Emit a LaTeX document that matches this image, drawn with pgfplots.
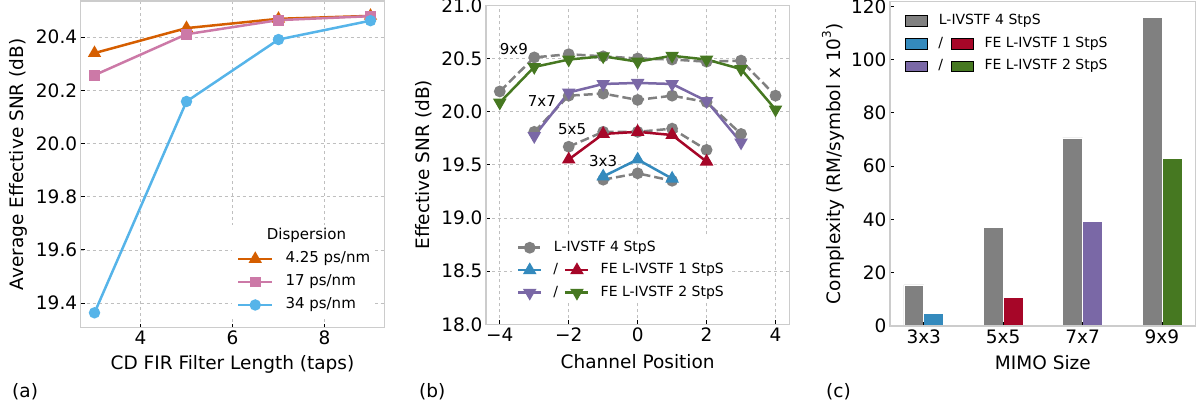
\documentclass[border=0pt]{standalone}
\usepackage{fontspec}
\setmainfont{DejaVu Sans}
\usepackage{pgfplots}
\pgfplotsset{compat=1.18}
\definecolor{cOr}{HTML}{D55E00}
\definecolor{cPk}{HTML}{CC79A7}
\definecolor{cLb}{HTML}{56B4E9}
\definecolor{cGray}{HTML}{808080}
\definecolor{cBlue}{HTML}{348ABD}
\definecolor{cRed}{HTML}{A60628}
\definecolor{cPur}{HTML}{7A68A6}
\definecolor{cGrn}{HTML}{467821}
\pgfplotsset{
  base/.style={
    scale only axis,
    axis line style={draw=black!20, line width=1.2pt},
    tick style={draw=black, line width=0.8pt},
    major tick length=4pt,
    tick align=inside,
    xtick pos=left, ytick pos=left,
    ticklabel style={font=\fontsize{18.5}{21}\selectfont},
    label style={font=\fontsize{18.5}{21}\selectfont},
    /pgf/number format/assume math mode=true,
    grid style={dashed, black!25, line width=0.6pt},
    legend cell align=left,
  },
  gstyle/.style={cGray, line width=2.5pt, dash pattern=on 9pt off 4pt, mark=*, mark size=4.6pt, mark options={solid}},
}
\begin{document}
\begin{tikzpicture}
\path[use as bounding box] (0pt,0pt) rectangle (1203pt,412pt);

% ---------------- (a)
\begin{axis}[base, at={(80.7pt,84.3pt)}, anchor=south west, width=303.6pt, height=326.7pt,
  xmin=2.7, xmax=9.3, ymin=19.307, ymax=20.536,
  xtick={4,6,8}, ytick={19.4,19.6,19.8,20.0,20.2,20.4},
  yticklabel style={/pgf/number format/.cd, fixed, fixed zerofill, precision=1},
  grid=major,
  xlabel={CD FIR Filter Length (taps)}, ylabel={Average Effective SNR (dB)},
  x label style={at={(axis description cs:0.5,-0.1111)}, anchor=center},
  y label style={at={(axis description cs:-0.2065,0.5)}, anchor=center},
  legend style={at={(axis description cs:0.4984,0.3144)}, anchor=north west, draw=none, fill=white,
    inner xsep=5pt, inner ysep=4pt, outer sep=0pt, font=\fontsize{15}{18}\selectfont, row sep=9pt,
    nodes={inner sep=0pt, text height=11pt, text depth=3pt},
    /tikz/every odd column/.append style={column sep=12pt}},
  legend image code/.code={\draw[mark repeat=2, mark phase=2, #1] plot coordinates {(0pt,0pt) (17pt,0pt) (34pt,0pt)};},
]
\addlegendimage{empty legend}
\addlegendentry{\hspace*{-18.6pt}Dispersion}
\addplot[cOr, line width=2.5pt, mark=triangle*, mark size=5.2pt] coordinates {(3,20.34)(5,20.434)(7,20.469)(9,20.48)};
\addlegendentry{4.25 ps/nm}
\addplot[cPk, line width=2.5pt, mark=square*, mark size=4.2pt] coordinates {(3,20.257)(5,20.411)(7,20.464)(9,20.479)};
\addlegendentry{17 ps/nm}
\addplot[cLb, line width=2.5pt, mark=*, mark size=4.4pt] coordinates {(3,19.363)(5,20.158)(7,20.391)(9,20.462)};
\addlegendentry{34 ps/nm}
\end{axis}

% ---------------- (b)
\begin{axis}[base, at={(486pt,87.7pt)}, anchor=south west, width=303.3pt, height=319pt,
  xmin=-4.4, xmax=4.4, ymin=18, ymax=21,
  xtick={-4,-2,0,2,4}, xticklabels={−4,−2,0,2,4},
  ytick={18,18.5,19,19.5,20,20.5,21},
  yticklabel style={/pgf/number format/.cd, fixed, fixed zerofill, precision=1},
  grid=major,
  xlabel={Channel Position}, ylabel={Effective SNR (dB)},
  x label style={at={(axis description cs:0.5,-0.1182)}, anchor=center},
  y label style={at={(axis description cs:-0.2044,0.5)}, anchor=center},
  legend columns=2,
  legend style={at={(axis description cs:0.0857,0.2737)}, anchor=north west, draw=none, fill=white,
    inner xsep=5pt, inner ysep=4pt, outer sep=0pt, font=\fontsize{14}{17}\selectfont, row sep=9pt,
    nodes={inner sep=0pt, text height=10.5pt, text depth=3pt},
    /tikz/every odd column/.append style={column sep=11pt},
    /tikz/every even column/.append style={column sep=6pt}},
  legend image code/.code={\draw[mark repeat=2, mark phase=2, #1] plot coordinates {(0pt,0pt) (11.5pt,0pt) (23pt,0pt)};},
]
% 9x9
\addplot[gstyle, forget plot] coordinates {(-4,20.19)(-3,20.51)(-2,20.54)(-1,20.52)(0,20.50)(1,20.49)(2,20.47)(3,20.48)(4,20.15)};
\addplot[cGrn, line width=2.5pt, mark=triangle*, mark size=5.4pt, mark options={rotate=180}, forget plot] coordinates {(-4,20.085)(-3,20.42)(-2,20.49)(-1,20.52)(0,20.47)(1,20.525)(2,20.49)(3,20.40)(4,20.02)};
% 7x7
\addplot[gstyle, forget plot] coordinates {(-3,19.81)(-2,20.15)(-1,20.17)(0,20.11)(1,20.15)(2,20.09)(3,19.79)};
\addplot[cPur, line width=2.5pt, mark=triangle*, mark size=5.4pt, mark options={rotate=180}, forget plot] coordinates {(-3,19.77)(-2,20.18)(-1,20.26)(0,20.27)(1,20.26)(2,20.10)(3,19.71)};
% 5x5
\addplot[gstyle, forget plot] coordinates {(-2,19.67)(-1,19.81)(0,19.81)(1,19.84)(2,19.64)};
\addplot[cRed, line width=2.5pt, mark=triangle*, mark size=5.4pt, forget plot] coordinates {(-2,19.55)(-1,19.79)(0,19.81)(1,19.78)(2,19.53)};
% 3x3
\addplot[gstyle, forget plot] coordinates {(-1,19.36)(0,19.42)(1,19.35)};
\addplot[cBlue, line width=2.5pt, mark=triangle*, mark size=5.4pt, forget plot] coordinates {(-1,19.39)(0,19.55)(1,19.37)};
\node[font=\fontsize{15}{18}\selectfont] at (axis cs:-3.59,20.59) {9x9};
\node[font=\fontsize{15}{18}\selectfont] at (axis cs:-2.78,20.10) {7x7};
\node[font=\fontsize{15}{18}\selectfont] at (axis cs:-1.90,19.84) {5x5};
\node[font=\fontsize{15}{18}\selectfont] at (axis cs:-1.00,19.54) {3x3};
\addlegendimage{gstyle}
\addlegendentry{\makebox[0pt][l]{L-IVSTF 4 StpS}}
\addlegendimage{empty legend}
\addlegendentry{}
\addlegendimage{cBlue, line width=2.5pt, mark=triangle*, mark size=5.4pt}
\addlegendentry{/}
\addlegendimage{cRed, line width=2.5pt, mark=triangle*, mark size=5.4pt}
\addlegendentry{FE L-IVSTF 1 StpS}
\addlegendimage{cPur, line width=2.5pt, mark=triangle*, mark size=5.4pt, mark options={rotate=180}}
\addlegendentry{/}
\addlegendimage{cGrn, line width=2.5pt, mark=triangle*, mark size=5.4pt, mark options={rotate=180}}
\addlegendentry{FE L-IVSTF 2 StpS}
\end{axis}

% ---------------- (c)
\begin{axis}[base, at={(890pt,86pt)}, anchor=south west, width=305.7pt, height=324.5pt,
  xmin=-0.425, xmax=3.425, ymin=0, ymax=121.8,
  xtick={0,1,2,3}, xticklabels={3x3,5x5,7x7,9x9},
  ytick={0,20,40,60,80,100,120},
  axis on top,
  xlabel={MIMO Size}, ylabel={Complexity (RM/symbol x 10\raisebox{0.5em}{\fontsize{12}{14}\selectfont 3})},
  x label style={at={(axis description cs:0.5,-0.114)}, anchor=center},
  y label style={at={(axis description cs:-0.1865,0.5)}, anchor=center},
  legend columns=2,
  legend style={at={(axis description cs:0.0327,0.9738)}, anchor=north west, draw=none, fill=white,
    inner xsep=5pt, inner ysep=4pt, outer sep=0pt, font=\fontsize{14}{17}\selectfont, row sep=9.2pt,
    nodes={inner sep=0pt, text height=10.5pt, text depth=3pt},
    /tikz/every odd column/.append style={column sep=11pt},
    /tikz/every even column/.append style={column sep=8pt}},
  legend image code/.code={\fill[#1] (0pt,-5.35pt) rectangle (22pt,5.35pt);},
]
\addplot[ybar, bar width=0.25, bar shift=-0.125, fill=cGray, draw=white, line width=0.6pt, forget plot] coordinates {(0,15.4)(1,36.9)(2,70.6)(3,115.9)};
\addplot[ybar, bar width=0.25, bar shift=0.125, fill=cBlue, draw=white, line width=0.6pt, forget plot] coordinates {(0,4.9)};
\addplot[ybar, bar width=0.25, bar shift=0.125, fill=cRed, draw=white, line width=0.6pt, forget plot] coordinates {(1,10.6)};
\addplot[ybar, bar width=0.25, bar shift=0.125, fill=cPur, draw=white, line width=0.6pt, forget plot] coordinates {(2,39.4)};
\addplot[ybar, bar width=0.25, bar shift=0.125, fill=cGrn, draw=white, line width=0.6pt, forget plot] coordinates {(3,63.1)};
\addlegendimage{fill=cGray}
\addlegendentry{\makebox[0pt][l]{L-IVSTF 4 StpS}}
\addlegendimage{empty legend}
\addlegendentry{}
\addlegendimage{fill=cBlue}
\addlegendentry{/}
\addlegendimage{fill=cRed}
\addlegendentry{FE L-IVSTF 1 StpS}
\addlegendimage{fill=cPur}
\addlegendentry{/}
\addlegendimage{fill=cGrn}
\addlegendentry{FE L-IVSTF 2 StpS}
\end{axis}

\node[anchor=west, inner sep=0pt, font=\fontsize{18.5}{21}\selectfont] at (12pt,20pt) {(a)};
\node[anchor=west, inner sep=0pt, font=\fontsize{18.5}{21}\selectfont] at (419pt,20pt) {(b)};
\node[anchor=west, inner sep=0pt, font=\fontsize{18.5}{21}\selectfont] at (826pt,20pt) {(c)};
\end{tikzpicture}
\end{document}
